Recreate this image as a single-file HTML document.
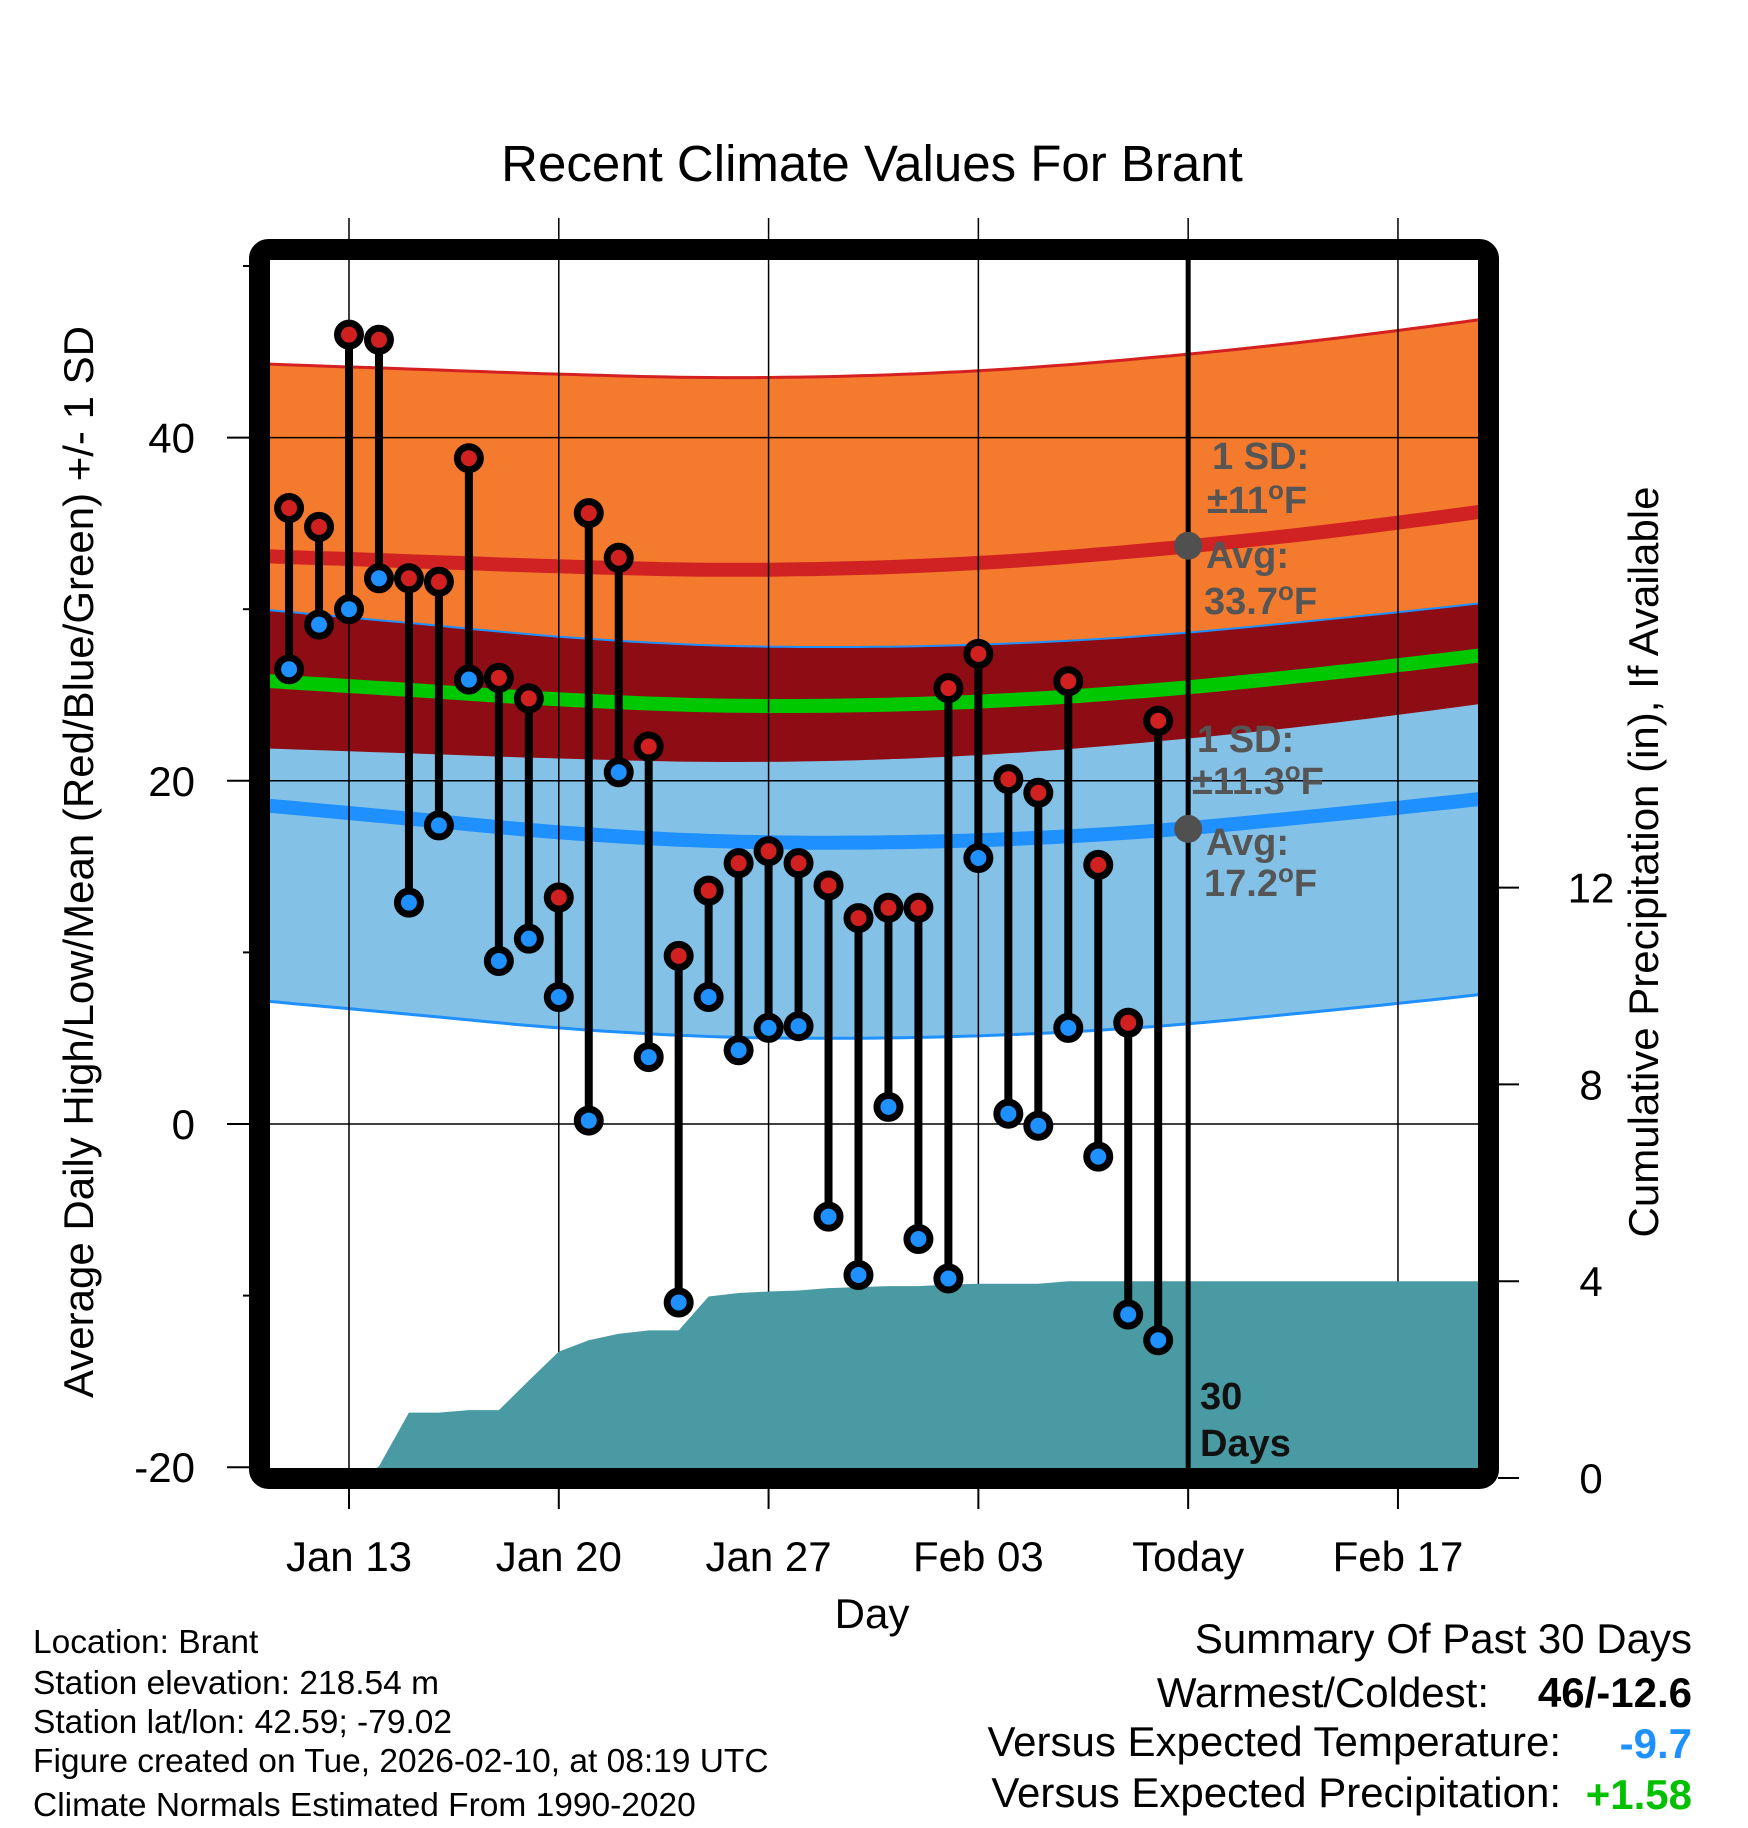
<!DOCTYPE html>
<html><head><meta charset="utf-8"><style>
html,body{margin:0;padding:0;background:#fff;}
svg{display:block;font-family:"Liberation Sans",Arial,sans-serif;}
</style></head><body>
<svg id="chart" width="1748" height="1828" viewBox="0 0 1748 1828" xmlns="http://www.w3.org/2000/svg">
<defs><clipPath id="plotclip"><rect x="270" y="260" width="1208" height="1208"/></clipPath></defs>
<text x="872" y="181" font-size="51" text-anchor="middle">Recent Climate Values For Brant</text>
<g id="bands" clip-path="url(#plotclip)"></g>
<g id="grid"></g>
<g id="precip" clip-path="url(#plotclip)"></g>
<g id="marks"></g>
<g id="annot"></g>
<rect x="259.5" y="249.5" width="1229" height="1229" rx="9" fill="none" stroke="#000" stroke-width="21"/>
<g id="axes"></g>
<text transform="translate(93,862) rotate(-90)" font-size="42" text-anchor="middle">Average Daily High/Low/Mean (Red/Blue/Green) +/- 1 SD</text>
<text transform="translate(1658,862) rotate(-90)" font-size="42" text-anchor="middle">Cumulative Precipitation (in), If Available</text>
<text x="872" y="1628" font-size="42" text-anchor="middle">Day</text>
<g font-size="33.5">
<text x="33" y="1653">Location: Brant</text>
<text x="33" y="1694">Station elevation: 218.54 m</text>
<text x="33" y="1733">Station lat/lon: 42.59; -79.02</text>
<text x="33" y="1772">Figure created on Tue, 2026-02-10, at 08:19 UTC</text>
<text x="33" y="1816">Climate Normals Estimated From 1990-2020</text>
</g>
<g font-size="42">
<text x="1692" y="1653" text-anchor="end">Summary Of Past 30 Days</text>
<text x="1489" y="1707" text-anchor="end">Warmest/Coldest:</text>
<text x="1692" y="1707" text-anchor="end" font-weight="bold">46/-12.6</text>
<text x="1561" y="1756" text-anchor="end">Versus Expected Temperature:</text>
<text x="1692" y="1758" text-anchor="end" font-weight="bold" fill="#1e90ff">-9.7</text>
<text x="1561" y="1807" text-anchor="end">Versus Expected Precipitation:</text>
<text x="1692" y="1809" text-anchor="end" font-weight="bold" fill="#00c000">+1.58</text>
</g>
</svg>
<script>
// ---- data (day-of-year: Jan 1 = 1, Feb 1 = 32) ----
const obsDays = [11,12,13,14,15,16,17,18,19,20,21,22,23,24,25,26,27,28,29,30,31,32,33,34,35,36,37,38,39,40];
const highs = [35.9,34.8,46.0,45.7,31.8,31.6,38.8,26.0,24.8,13.2,35.6,33.0,22.0,9.8,13.6,15.2,15.9,15.2,13.9,12.0,12.6,12.6,25.4,27.4,20.1,19.3,25.8,15.1,5.9,23.5];
const lows = [26.5,29.1,30.0,31.8,12.9,17.4,25.9,9.5,10.8,7.4,0.2,20.5,3.9,-10.4,7.4,4.3,5.6,5.7,-5.4,-8.8,1.0,-6.7,-9.0,15.5,0.6,-0.1,5.6,-1.9,-11.1,-12.6];
const normDays = [10,15,20,25,30,35,40,45,50,55];
const normHigh = [33.1,32.8,32.5,32.3,32.4,32.8,33.5,34.4,35.5,36.7];
const normLow = [18.6,17.8,17.0,16.5,16.4,16.6,17.1,17.9,18.8,19.8];
const sdHigh = 11.2;
const sdLow = 11.4;
const precipDays = [10,13.5,14,15,16,17,18,19,20,21,22,23,24,25,26,27,28,29,30,31,32,33,34,35,36,37,38,39,40,55];
const precipVals = [0,0,0.24,1.33,1.33,1.38,1.38,1.98,2.57,2.8,2.93,3.0,3.0,3.69,3.76,3.79,3.81,3.86,3.88,3.9,3.9,3.93,3.95,3.95,3.95,4.0,4.0,4.0,4.0,4.0];
const yTicks = [40,20,0,-20];
const yMinor = [50,30,10,-10];
const y2Ticks = [0,4,8,12];
const xTickDays = [13,20,27,34,41,48];
const xTickLabels = ["Jan 13","Jan 20","Jan 27","Feb 03","Today","Feb 17"];
const todayDay = 41;

// ---- scales ----
const X = d => 349 + (d - 13) * 29.97;
const Y = t => 437.6 - (t - 40) * 17.16;
const Y2 = p => 1478 - p * 49.2;
const NS = "http://www.w3.org/2000/svg";
function mk(tag, attrs, parent){const e=document.createElementNS(NS,tag);for(const k in attrs)e.setAttribute(k,attrs[k]);parent.appendChild(e);return e;}
const $ = id => document.getElementById(id);

function smoothPts(days, vals){
  const pts = days.map((d,i)=>[X(d),Y(vals[i])]);
  const out=[];
  for(let i=0;i<pts.length-1;i++){
    const p0=pts[Math.max(0,i-1)],p1=pts[i],p2=pts[i+1],p3=pts[Math.min(pts.length-1,i+2)];
    for(let s=0;s<10;s++){const t=s/10,t2=t*t,t3=t2*t;
      out.push([0.5*(2*p1[0]+(-p0[0]+p2[0])*t+(2*p0[0]-5*p1[0]+4*p2[0]-p3[0])*t2+(-p0[0]+3*p1[0]-3*p2[0]+p3[0])*t3),
                0.5*(2*p1[1]+(-p0[1]+p2[1])*t+(2*p0[1]-5*p1[1]+4*p2[1]-p3[1])*t2+(-p0[1]+3*p1[1]-3*p2[1]+p3[1])*t3)]);}
  }
  out.push(pts[pts.length-1]);return out;
}
const off = (arr,o)=>arr.map(v=>v+o);
const hiTop = smoothPts(normDays, off(normHigh,sdHigh));
const hiBot = smoothPts(normDays, off(normHigh,-sdHigh));
const loTop = smoothPts(normDays, off(normLow,sdLow));
const loBot = smoothPts(normDays, off(normLow,-sdLow));
const hiMid = smoothPts(normDays, normHigh);
const loMid = smoothPts(normDays, normLow);
const meanMid = smoothPts(normDays, normHigh.map((h,i)=>(h+normLow[i])/2));
const line = pts => pts.map((p,i)=>(i?"L":"M")+p[0].toFixed(1)+","+p[1].toFixed(1)).join("");
const band = (a,b) => line(a) + b.slice().reverse().map(p=>"L"+p[0].toFixed(1)+","+p[1].toFixed(1)).join("") + "Z";

const B = $("bands");
let e;
e = mk("path",{d:band(hiTop,hiBot),fill:"#f47a2e"},B);


e = mk("path",{d:band(loTop,loBot),fill:"#84c1e6"},B);


e = mk("path",{d:band(loTop,hiBot),fill:"#8e0d15"},B);


mk("path",{d:line(hiTop),fill:"none",stroke:"#d42020","stroke-width":3},B);
mk("path",{d:line(loTop),fill:"none",stroke:"#1e90ff","stroke-width":2},B);
mk("path",{d:line(loBot),fill:"none",stroke:"#1e90ff","stroke-width":3},B);
e = mk("path",{d:line(hiMid),fill:"none",stroke:"#d02222","stroke-width":14},B);


e = mk("path",{d:line(meanMid),fill:"none",stroke:"#00c800","stroke-width":14},B);


e = mk("path",{d:line(loMid),fill:"none",stroke:"#1e90ff","stroke-width":14},B);



// grid
const G = $("grid");
yTicks.forEach(t=>{ if(t>-20){ e=mk("line",{x1:270,x2:1478,y1:Y(t),y2:Y(t),stroke:"#000","stroke-width":1.5},G);

}});
xTickDays.forEach(d=>{ e=mk("line",{x1:X(d),x2:X(d),y1:218,y2:1468,stroke:"#000","stroke-width":1.5},G);

});

// precip
const P = $("precip");
let pd = "M"+X(precipDays[0])+","+Y2(0);
precipDays.forEach((d,i)=>{pd+="L"+X(d).toFixed(1)+","+Y2(precipVals[i]).toFixed(1);});
pd += "L"+X(precipDays[precipDays.length-1])+","+Y2(0)+"Z";
e = mk("path",{d:pd,fill:"#4a9aa3"},P);



// today line
e = mk("line",{x1:X(todayDay),x2:X(todayDay),y1:250,y2:1470,stroke:"#000","stroke-width":5},$("marks"));



// marks
const M = $("marks");
obsDays.forEach((d,i)=>{
  const x=X(d);
  e = mk("line",{x1:x,x2:x,y1:Y(highs[i]),y2:Y(lows[i]),stroke:"#000","stroke-width":8},M);
  
  
  e = mk("circle",{cx:x,cy:Y(highs[i]),r:11.5,fill:"#d02020",stroke:"#000","stroke-width":7},M);
  
  
  e = mk("circle",{cx:x,cy:Y(lows[i]),r:11.5,fill:"#1e90ff",stroke:"#000","stroke-width":7},M);
  
  
});

// annotations
const A = $("annot");
const tx = X(todayDay);
e = mk("circle",{cx:tx,cy:Y(33.7),r:14,fill:"#505050"},A);


e = mk("circle",{cx:tx,cy:Y(17.2),r:14,fill:"#505050"},A);


const DEG = "<tspan dy='-14' font-size='26'>o</tspan><tspan dy='14'>F</tspan>";
function note(x,y,txt,name,fill){const t=mk("text",{x:x,y:y,"font-size":38,"font-weight":"bold",fill:fill||"#555"},A);t.innerHTML=txt;}
note(1212,469,"1 SD:","high-sd-label");
note(1207,513,"±11"+DEG,"high-sd-value");
note(1206,568,"Avg:","high-avg-label");
note(1204,614,"33.7"+DEG,"high-avg-value");
note(1197,752,"1 SD:","low-sd-label");
note(1192,794,"±11.3"+DEG,"low-sd-value");
note(1206,855,"Avg:","low-avg-label");
note(1204,896,"17.2"+DEG,"low-avg-value");
note(1200,1409,"30","days-count","#111");
note(1200,1456,"Days","days-label","#111");

// axes ticks & labels
const AX = $("axes");
yTicks.forEach(t=>{
  mk("line",{x1:227,x2:250,y1:Y(t),y2:Y(t),stroke:"#000","stroke-width":2},AX);
  e = mk("text",{x:195,y:Y(t)+15,"font-size":42,"text-anchor":"end"},AX); e.textContent=t;
  
  
});
yMinor.forEach(t=>{ mk("line",{x1:243,x2:250,y1:Y(t),y2:Y(t),stroke:"#000","stroke-width":2},AX); });
y2Ticks.forEach(p=>{
  mk("line",{x1:1498,x2:1519,y1:Y2(p),y2:Y2(p),stroke:"#000","stroke-width":2},AX);
  e = mk("text",{x:1591,y:Y2(p)+15,"font-size":42,"text-anchor":"middle"},AX); e.textContent=p;
  
  
});
xTickDays.forEach((d,i)=>{
  mk("line",{x1:X(d),x2:X(d),y1:1488,y2:1509,stroke:"#000","stroke-width":2},AX);
  e = mk("text",{x:X(d),y:1571,"font-size":42,"text-anchor":"middle"},AX); e.textContent=xTickLabels[i];
  
  
});
</script>
</body></html>
